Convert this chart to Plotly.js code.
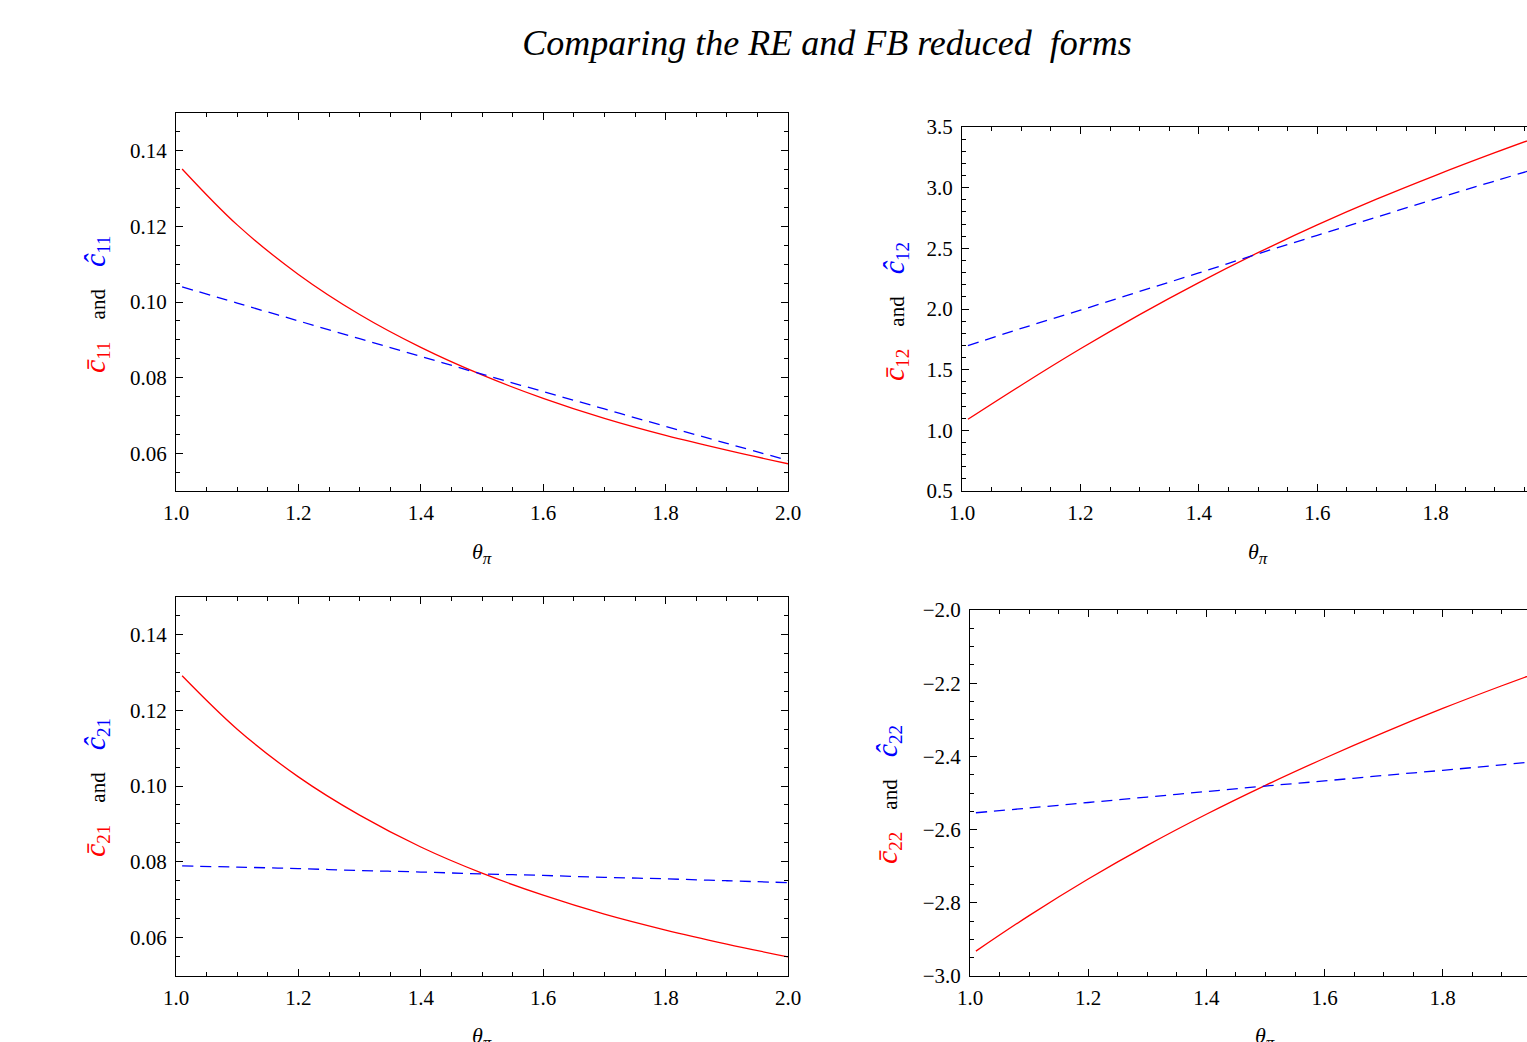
<!DOCTYPE html>
<html>
<head>
<meta charset="utf-8">
<script src="https://cdn.plot.ly/plotly-3.0.1.min.js"></script>
<style>html,body{margin:0;padding:0;background:#fff;}#chart{width:1527px;height:1042px;}</style>
</head>
<body>
<div id="chart"></div>
<script>
// theta_pi grid
const theta = [1.01, 1.1, 1.2, 1.3, 1.4, 1.5, 1.6, 1.7, 1.8, 1.9, 2.0];
// RE (red, solid) and FB (blue, dashed) reduced-form coefficients
const c11Bar = [0.1352, 0.1204, 0.1073, 0.0967, 0.0880, 0.0807, 0.0745, 0.0692, 0.0647, 0.0608, 0.0572];
const c11Hat = [0.1040, 0.0997, 0.0950, 0.0903, 0.0856, 0.0809, 0.0763, 0.0717, 0.0671, 0.0626, 0.0581];
const c12Bar = [1.091, 1.372, 1.672, 1.954, 2.218, 2.464, 2.693, 2.905, 3.102, 3.288, 3.466];
const c12Hat = [1.698, 1.840, 1.990, 2.145, 2.297, 2.455, 2.607, 2.757, 2.908, 3.055, 3.200];
const c21Bar = [0.1291, 0.1150, 0.1024, 0.0923, 0.0839, 0.0770, 0.0712, 0.0662, 0.0620, 0.0583, 0.0549];
const c21Hat = [0.0789, 0.0786, 0.0782, 0.0777, 0.0773, 0.0768, 0.0764, 0.0759, 0.0755, 0.0750, 0.0745];
const c22Bar = [-2.932, -2.835, -2.735, -2.643, -2.558, -2.479, -2.405, -2.335, -2.269, -2.207, -2.148];
const c22Hat = [-2.554, -2.541, -2.526, -2.511, -2.496, -2.481, -2.467, -2.452, -2.438, -2.423, -2.407];

const xTicks = [1.0, 1.2, 1.4, 1.6, 1.8, 2.0];
const yTicks11 = [0.06, 0.08, 0.10, 0.12, 0.14];
const yTicks12 = [0.5, 1.0, 1.5, 2.0, 2.5, 3.0, 3.5];
const yTicks22 = [-3.0, -2.8, -2.6, -2.4, -2.2, -2.0];
const subs = ['11', '12', '21', '22'];
const titleText = 'Comparing the RE and FB reduced\u00A0 forms';
const xLabel = '<i>θ</i><sub><span style="font-size:17px"><i>π</i></span></sub>';

const W = 1527, H = 1042;
const RED = '#ff0000', BLUE = '#0000ff';
const FONT = 'Liberation Serif, Times New Roman, serif';

function redTrace(y, xa, ya) {
  return {x: theta, y: y, xaxis: xa, yaxis: ya, type: 'scatter', mode: 'lines',
    line: {color: RED, width: 1.3, shape: 'spline', smoothing: 1}, hoverinfo: 'skip'};
}
function blueTrace(y, xa, ya) {
  return {x: theta, y: y, xaxis: xa, yaxis: ya, type: 'scatter', mode: 'lines',
    line: {color: BLUE, width: 1.3, dash: '11px,7px', shape: 'spline', smoothing: 1}, hoverinfo: 'skip'};
}

const data = [
  redTrace(c11Bar, 'x', 'y'), blueTrace(c11Hat, 'x', 'y'),
  redTrace(c12Bar, 'x2', 'y2'), blueTrace(c12Hat, 'x2', 'y2'),
  redTrace(c21Bar, 'x3', 'y3'), blueTrace(c21Hat, 'x3', 'y3'),
  redTrace(c22Bar, 'x4', 'y4'), blueTrace(c22Hat, 'x4', 'y4')
];

function px(v) { return v / W; }
function py(v) { return 1 - v / H; }

function axisBase(extra) {
  return Object.assign({
    showline: true, linecolor: '#000', linewidth: 1,
    ticks: 'inside', ticklen: 7, tickwidth: 1, tickcolor: '#000',
    mirror: 'ticks', showgrid: false, zeroline: false,
    tickfont: {family: FONT, size: 21, color: '#000'},
    fixedrange: true
  }, extra);
}
function xAxis(domain, range, anchor, minorD, mirror) {
  return axisBase({domain: domain, range: range, anchor: anchor,
    tickmode: 'array', tickvals: xTicks, ticktext: xTicks.map(v => v.toFixed(1)),
    minor: {ticks: 'inside', ticklen: 4, tickcolor: '#000', dtick: minorD, tick0: 1},
    ticklabelstandoff: 3, mirror: mirror});
}
function yAxis(domain, range, anchor, vals, dec, minorD, minor0, mirror) {
  return axisBase({domain: domain, range: range, anchor: anchor,
    tickmode: 'array', tickvals: vals,
    ticktext: vals.map(v => (v < 0 ? '\u2212' : '') + Math.abs(v).toFixed(dec)),
    minor: {ticks: 'inside', ticklen: 4, tickcolor: '#000', dtick: minorD, tick0: minor0},
    ticklabelstandoff: 4, mirror: mirror});
}

function yLabel(sub) {
  const sp = '\u00A0\u00A0\u00A0\u00A0';
  return '<span style="color:' + RED + '"><span style="font-size:30px"><i>c\u0304</i></span><sub><span style="font-size:19px">' + sub + '</span></sub></span>' +
    sp + '<span style="font-size:21px">and</span>' + sp +
    '<span style="color:' + BLUE + '"><span style="font-size:30px"><i>\u0109</i></span><sub><span style="font-size:19px">' + sub + '</span></sub></span>';
}

const layout = {
  width: W, height: H,
  margin: {l: 0, r: 0, t: 0, b: 0, pad: 0},
  paper_bgcolor: '#fff', plot_bgcolor: '#fff',
  showlegend: false,
  title: {text: '<i>' + titleText + '</i>', font: {family: FONT, size: 36, color: '#000'},
    x: px(827), xanchor: 'center', xref: 'paper', y: py(42), yanchor: 'middle', yref: 'paper'},
  xaxis: xAxis([px(176), px(788)], [1, 2], 'y', 0.05, 'ticks'),
  yaxis: yAxis([py(491), py(113)], [0.05, 0.15], 'x', yTicks11, 2, 0.005, 0.05, 'ticks'),
  xaxis2: xAxis([px(962), 1], [1, 1 + (W - 962) / 592.1], 'y2', 0.05, 'ticks'),
  yaxis2: yAxis([py(491), py(127)], [0.5, 3.5], 'x2', yTicks12, 1, 0.1, 0.5, false),
  xaxis3: xAxis([px(176), px(788)], [1, 2], 'y3', 0.05, 'ticks'),
  yaxis3: yAxis([py(975.5), py(596.5)], [0.05, 0.15], 'x3', yTicks11, 2, 0.005, 0.05, 'ticks'),
  xaxis4: xAxis([px(970), 1], [1, 1 + (W - 970) / 590.9], 'y4', 0.05, 'ticks'),
  yaxis4: yAxis([py(976), py(610)], [-3, -2], 'x4', yTicks22, 1, 0.05, -3, false),
  annotations: [
    {text: xLabel, xref: 'x', yref: 'paper', x: 1.5, y: py(553), xanchor: 'center', yanchor: 'middle', showarrow: false, font: {family: FONT, size: 22, color: '#000'}},
    {text: xLabel, xref: 'x2', yref: 'paper', x: 1.5, y: py(553), xanchor: 'center', yanchor: 'middle', showarrow: false, font: {family: FONT, size: 22, color: '#000'}},
    {text: xLabel, xref: 'x3', yref: 'paper', x: 1.5, y: py(1037), xanchor: 'center', yanchor: 'middle', showarrow: false, font: {family: FONT, size: 22, color: '#000'}},
    {text: xLabel, xref: 'x4', yref: 'paper', x: 1.5, y: py(1037), xanchor: 'center', yanchor: 'middle', showarrow: false, font: {family: FONT, size: 22, color: '#000'}},
    {text: yLabel(subs[0]), xref: 'paper', yref: 'paper', x: px(96), y: py(304), textangle: -90, xanchor: 'center', yanchor: 'middle', showarrow: false, font: {family: FONT, size: 22, color: '#000'}},
    {text: yLabel(subs[1]), xref: 'paper', yref: 'paper', x: px(895), y: py(311), textangle: -90, xanchor: 'center', yanchor: 'middle', showarrow: false, font: {family: FONT, size: 22, color: '#000'}},
    {text: yLabel(subs[2]), xref: 'paper', yref: 'paper', x: px(96), y: py(788), textangle: -90, xanchor: 'center', yanchor: 'middle', showarrow: false, font: {family: FONT, size: 22, color: '#000'}},
    {text: yLabel(subs[3]), xref: 'paper', yref: 'paper', x: px(888), y: py(795), textangle: -90, xanchor: 'center', yanchor: 'middle', showarrow: false, font: {family: FONT, size: 22, color: '#000'}}
  ]
};

Plotly.newPlot('chart', data, layout, {displayModeBar: false, staticPlot: true});
</script>
</body>
</html>
